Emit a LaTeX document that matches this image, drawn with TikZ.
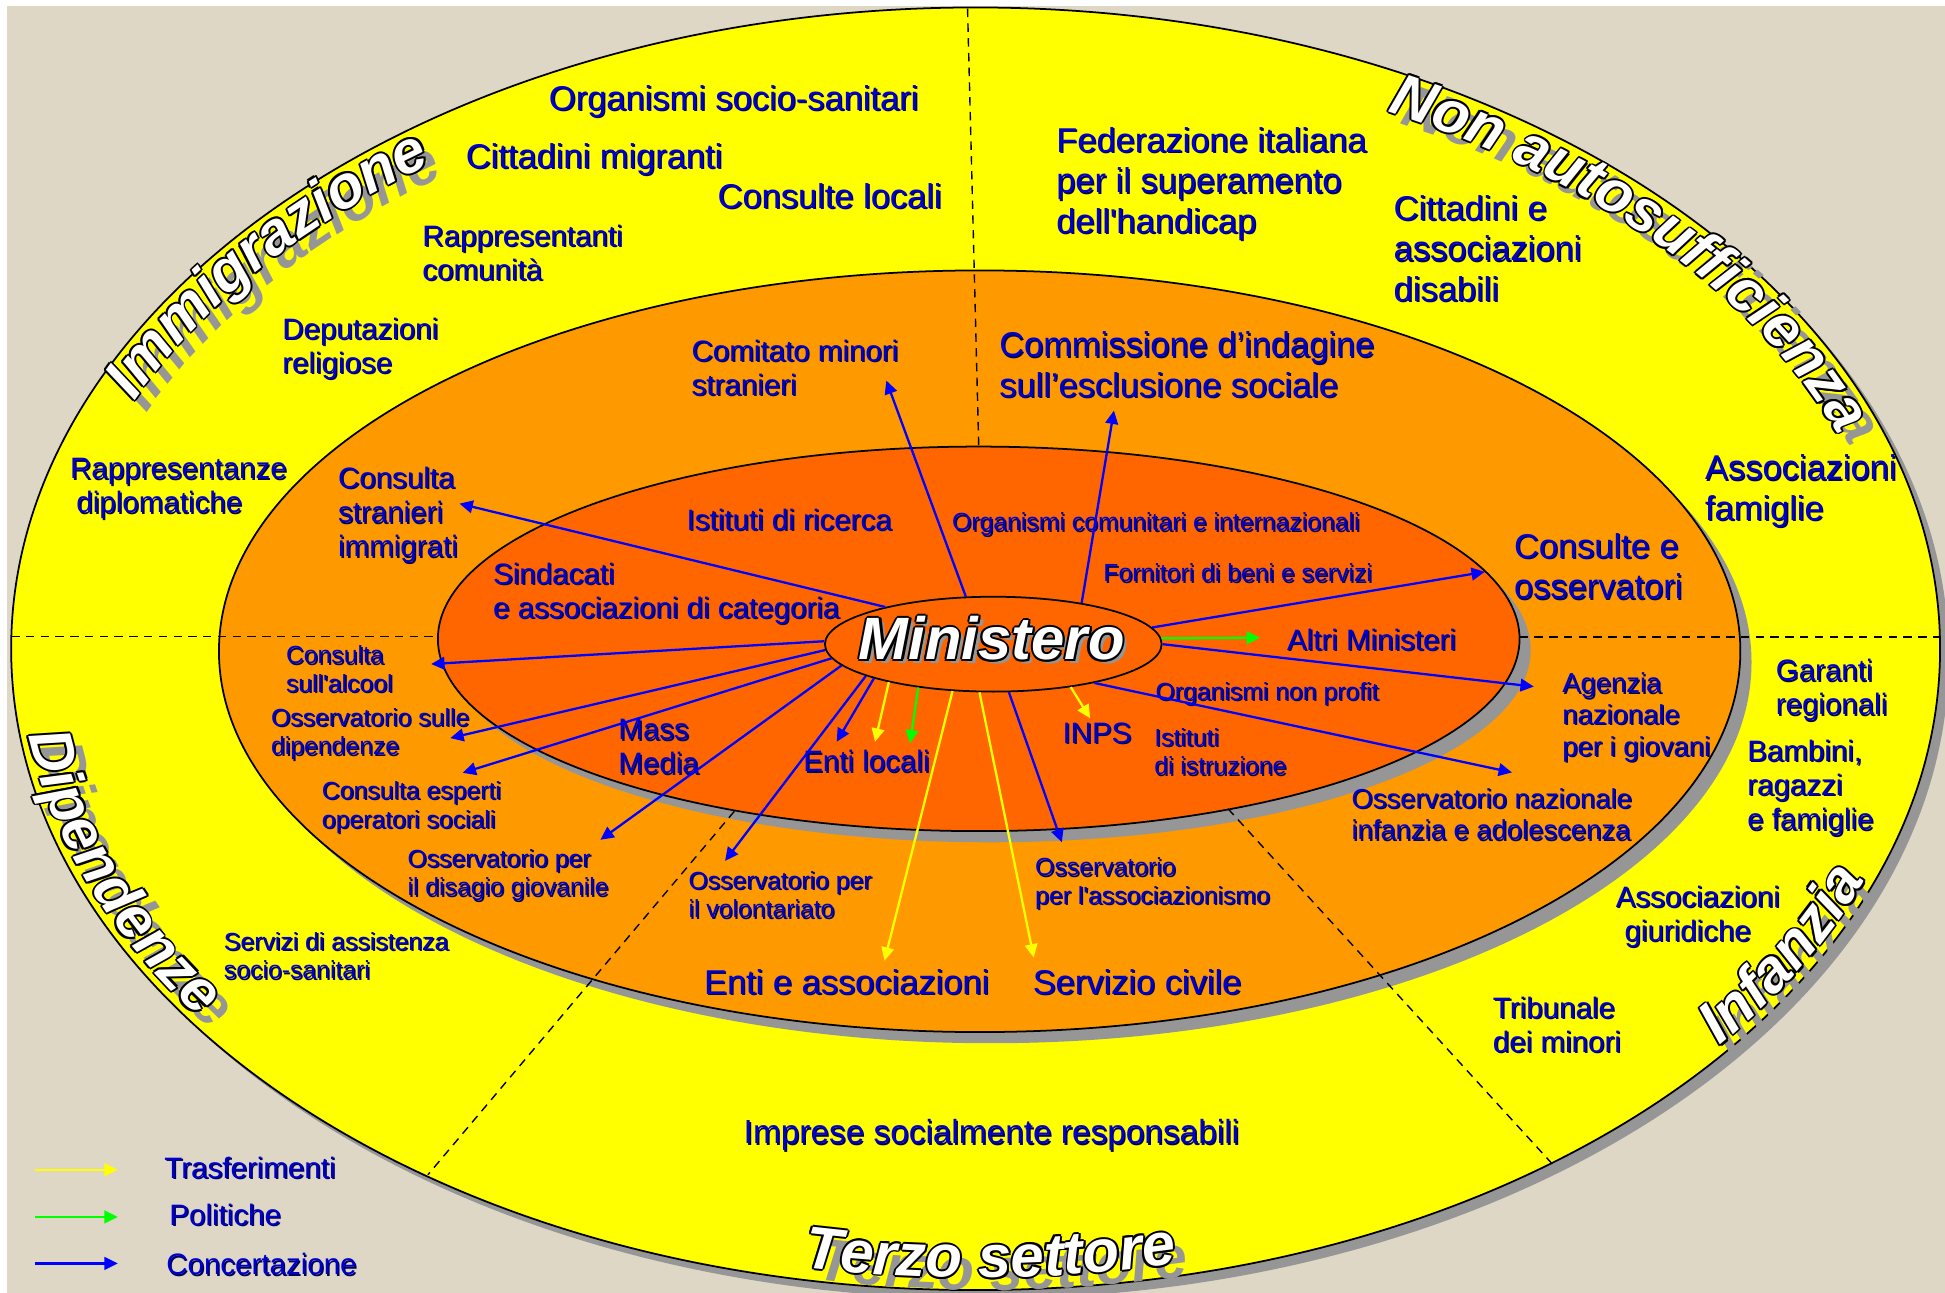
\documentclass[tikz,border=0pt]{standalone}
\usepackage{fontspec}
\setmainfont{Liberation Sans}
\usetikzlibrary{arrows.meta,shapes.geometric,decorations.text}

\definecolor{backbeige}{RGB}{223,215,198}
\definecolor{outerband}{RGB}{255,255,0}
\definecolor{middleband}{RGB}{255,153,0}
\definecolor{innerband}{RGB}{255,102,0}
\definecolor{dropgrey}{RGB}{150,150,150}
\definecolor{labelblue}{RGB}{0,0,204}
\definecolor{labelshade}{RGB}{0,0,90}
\definecolor{concblue}{RGB}{0,0,255}
\definecolor{trasfyellow}{RGB}{255,255,0}
\definecolor{polgreen}{RGB}{0,255,0}

\newcommand\bigfont{\fontsize{9.8}{11.5}\selectfont}
\newcommand\midfont{\fontsize{8.4}{9.7}\selectfont}
\newcommand\smallfont{\fontsize{7.8}{9}\selectfont}
\newcommand\tinyfont{\fontsize{7.05}{8.1}\selectfont}
\newcommand\titlefont{\fontsize{17}{18}\selectfont\bfseries\itshape}

\newcommand\lab[4]{%
  \node[#1,text=labelshade] (#2-s) at ([shift={(.4pt,-.4pt)}]#3) {#4};
  \node[#1] (#2) at (#3) {#4};}

\newcommand\bandtitle[2]{%
  \path[decorate,decoration={text along path,text align=center,
    text={|\titlefont\color{dropgrey}|#2}},shift={(3.5pt,-3.5pt)}] #1;
  \foreach \ang in {0,45,...,315}
    \path[decorate,decoration={text along path,text align=center,
      text={|\titlefont\color{black}|#2}},shift={(\ang:.55pt)}] #1;
  \path[decorate,decoration={text along path,text align=center,
    text={|\titlefont\color{white}|#2}}] #1;}

\begin{document}
\begin{tikzpicture}[x=0.012404cm,y=-0.012404cm,>={Triangle[length=3.8pt,width=3.6pt]},
                    lbl/.style={text=labelblue,inner sep=0pt,anchor=north west,align=left},
                    bigtxt/.style={lbl,font=\bigfont},
                    midtxt/.style={lbl,font=\midfont},
                    smalltxt/.style={lbl,font=\smallfont},
                    tinytxt/.style={lbl,font=\tinyfont},
                    widetxt/.style={lbl,font=\fontsize{9.5}{11}\selectfont},
                    ring/.style={draw=black,line width=.5pt},
                    divider/.style={draw=black,dash pattern=on 2.4pt off 1.8pt,line width=.4pt},
                    flow/.style={->,line width=.65pt},
                    conc/.style={flow,draw=concblue},
                    trasf/.style={flow,draw=trasfyellow},
                    pol/.style={flow,draw=polgreen},
                    mintext/.style={font=\fontsize{17}{17}\selectfont\bfseries\itshape,inner sep=0pt}]

  \useasboundingbox (0,0) rectangle (1568,1042);
  \fill[white] (0,0) rectangle (1568,1042);
  \fill[backbeige] (6,5) rectangle (1568,1042);

  \fill[dropgrey] (793.5,530) ellipse [x radius=777.5,y radius=517];
  \path[ring,fill=outerband] (786.5,523) ellipse [x radius=777.5,y radius=517];
  \fill[dropgrey] (798.75,534) ellipse [x radius=613.25,y radius=307];
  \path[ring,fill=middleband] (789.75,525) ellipse [x radius=613.25,y radius=307];
  \fill[dropgrey] (798,524) ellipse [x radius=436,y radius=155];
  \path[ring,fill=innerband] (789,515) ellipse [x radius=436,y radius=155];

  \draw[divider] (780,7) -- (789,359);
  \draw[divider] (9,513) -- (353,513);
  \draw[divider] (1225,513.6) -- (1564,513.6);
  \draw[divider] (592,654) -- (345,947);
  \draw[divider] (990,652) -- (1252,939);

  \bandtitle{(78.1,374.2) arc[start angle=-162.1,end angle=-121.1,x radius=744.5,y radius=484]}{Immigrazione}
  \bandtitle{(1126.8,92.5) arc[start angle=-62.8,end angle=-21.8,x radius=744.5,y radius=484]}{Non autosufficienza}
  \bandtitle{(22.6,589.6) arc[start angle=-187.5,end angle=-216,x radius=770.5,y radius=510]}{Dipendenze}
  \bandtitle{(1360,863.6) arc[start angle=-318.1,end angle=-342.1,x radius=770.5,y radius=510]}{Infanzia}
  \bandtitle{(612.5,1016.8) arc[start angle=-256.9,end angle=-284.9,x radius=767.5,y radius=507]}{Terzo settore}

  \lab{bigtxt}{sociosanitari}{442,68}{Organismi socio-sanitari}
  \lab{bigtxt}{migranti}{375,115}{Cittadini migranti}
  \lab{bigtxt}{consultelocali}{578,147}{Consulte locali}
  \lab{midtxt}{comunita}{340,180.5}{Rappresentanti\\comunità}
  \lab{midtxt}{religiose}{227,255.5}{Deputazioni\\religiose}
  \lab{midtxt}{diplomatiche}{56,369}{Rappresentanze\\\hspace*{1.8pt}diplomatiche}
  \lab{bigtxt}{handicap}{851,102}{Federazione italiana\\per il superamento\\dell\textquotesingle handicap}
  \lab{bigtxt}{disabili}{1123,157}{Cittadini e\\associazioni\\disabili}
  \lab{bigtxt}{famiglie}{1374,366}{Associazioni\\famiglie}
  \lab{midtxt}{garanti}{1431,531}{Garanti\\regionali}
  \lab{midtxt}{bambini}{1408,596}{Bambini,\\ragazzi\\e famiglie}
  \lab{midtxt}{giuridiche}{1302,713.5}{Associazioni\\\hspace*{2.5pt}giuridiche}
  \lab{midtxt}{tribunale}{1203,803}{Tribunale\\dei minori}
  \lab{tinytxt}{assistenza}{180,751}{Servizi di assistenza\\socio-sanitari}
  \lab{widetxt}{imprese}{599,902}{Imprese socialmente responsabili}

  \lab{midtxt}{comitato}{557,273.5}{Comitato minori\\stranieri}
  \lab{bigtxt}{commissione}{805,267}{Commissione d’indagine\\sull’esclusione sociale}
  \lab{midtxt}{stranieri}{272,376}{Consulta\\stranieri\\immigrati}
  \lab{bigtxt}{consulte}{1220,429.5}{Consulte e\\osservatori}
  \lab{tinytxt}{alcool}{230,520}{Consulta\\sull\textquotesingle alcool}
  \lab{tinytxt}{dipendenze}{218,570.5}{Osservatorio sulle\\dipendenze}
  \lab{tinytxt}{esperti}{259,629.5}{Consulta esperti\\operatori sociali}
  \lab{tinytxt}{disagio}{328,684}{Osservatorio per\\il disagio giovanile}
  \lab{tinytxt}{volontariato}{554.5,702}{Osservatorio per\\il volontariato}
  \lab{bigtxt}{entiass}{567,781}{Enti e associazioni}
  \lab{bigtxt}{civile}{832,781}{Servizio civile}
  \lab{tinytxt}{associazionismo}{834,691}{Osservatorio\\per l\textquotesingle associazionismo}
  \lab{smalltxt}{infanzia}{1089,635}{Osservatorio nazionale\\infanzia e adolescenza}
  \lab{smalltxt}{agenzia}{1259,542}{Agenzia\\nazionale\\per i giovani}

  \lab{midtxt}{ricerca}{553,409.5}{Istituti di ricerca}
  \lab{tinytxt}{comunitari}{767,413}{Organismi comunitari e internazionali}
  \lab{midtxt}{sindacati}{397,453}{Sindacati\\e associazioni di categoria}
  \lab{tinytxt}{fornitori}{889,454}{Fornitori di beni e servizi}
  \lab{midtxt}{ministeri}{1037,506.5}{Altri Ministeri}
  \lab{tinytxt}{nonprofit}{931,549.5}{Organismi non profit}
  \lab{midtxt}{massmedia}{498,579.5}{Mass\\Media}
  \lab{midtxt}{entilocali}{647,604.5}{Enti locali}
  \lab{midtxt}{inps}{856,582}{INPS}
  \lab{tinytxt}{istruzione}{930,586.5}{Istituti\\di istruzione}

  \lab{midtxt}{trasferimenti}{132,932}{Trasferimenti}
  \lab{midtxt}{politiche}{136,970}{Politiche}
  \lab{midtxt}{concertazione}{133.5,1010}{Concertazione}

  \node[ellipse,ring,fill=innerband,minimum width=95.8pt,minimum height=27pt,inner sep=0pt] (min) at (800.75,519.3) {};
  \node[mintext,text=dropgrey] (minshadow) at ([shift={(1.2pt,-1.2pt)}]799.5,514.6) {Ministero};
  \foreach \ang in {0,45,...,315}
    \node[mintext] (minedge-\ang) at ([shift={(\ang:.6pt)}]799.5,514.6) {Ministero};
  \node[mintext,text=white] (minlabel) at (799.5,514.6) {Ministero};

  \coordinate (c-comitato) at (714.5,306.8);
  \coordinate (c-commissione) at (898,331);
  \coordinate (c-stranieri) at (370.4,406);
  \coordinate (c-consulte) at (1197,461);
  \coordinate (c-agenzia) at (1236.5,553.5);
  \coordinate (c-osservatorio) at (1218.9,622.7);
  \coordinate (c-alcool) at (347.6,535.3);
  \coordinate (c-dipendenze) at (363,595);
  \coordinate (c-esperti) at (373,623);
  \coordinate (c-disagio) at (484,677);
  \coordinate (c-volontariato) at (584.5,694);
  \coordinate (c-enti) at (674.5,598);
  \coordinate (c-associazionismo) at (856,679);
  \coordinate (t-enti) at (705.4,598);
  \coordinate (t-inps) at (878.8,579);
  \coordinate (t-associazioni) at (713,774.5);
  \coordinate (t-civile) at (833.4,771.9);
  \coordinate (p-enti) at (733.6,599.3);
  \coordinate (p-ministeri) at (1015.8,514.1);

  \path (min.120) edge[conc] (c-comitato);
  \path (min.25)  edge[conc] (c-commissione);
  \path (min.161) edge[conc] (c-stranieri);
  \path (min.6)   edge[conc] (c-consulte);
  \path (min.0)   edge[conc] (c-agenzia);
  \path (min.339) edge[conc] (c-osservatorio);
  \path (min.179) edge[conc] (c-alcool);
  \path (min.182) edge[conc] (c-dipendenze);
  \path (min.185) edge[conc] (c-esperti);
  \path (min.188) edge[conc] (c-disagio);
  \path (min.194) edge[conc] (c-volontariato);
  \path (min.196) edge[conc] (c-enti);
  \path (min.288) edge[conc] (c-associazionismo);
  \path (min.200) edge[trasf] (t-enti);
  \path (min.331) edge[trasf] (t-inps);
  \path (min.229) edge[trasf] (t-associazioni);
  \path (min.254) edge[trasf] (t-civile);
  \path (min.210) edge[pol] (p-enti);
  \path (min.2)   edge[pol] (p-ministeri);

  \coordinate (lg-t0) at (28,943);   \coordinate (lg-t1) at (95,943);
  \coordinate (lg-p0) at (28,981);   \coordinate (lg-p1) at (95,981);
  \coordinate (lg-c0) at (28,1018.5); \coordinate (lg-c1) at (95,1018.5);
  \path (lg-t0) edge[trasf] (lg-t1);
  \path (lg-p0) edge[pol] (lg-p1);
  \path (lg-c0) edge[conc] (lg-c1);

\end{tikzpicture}
\end{document}
